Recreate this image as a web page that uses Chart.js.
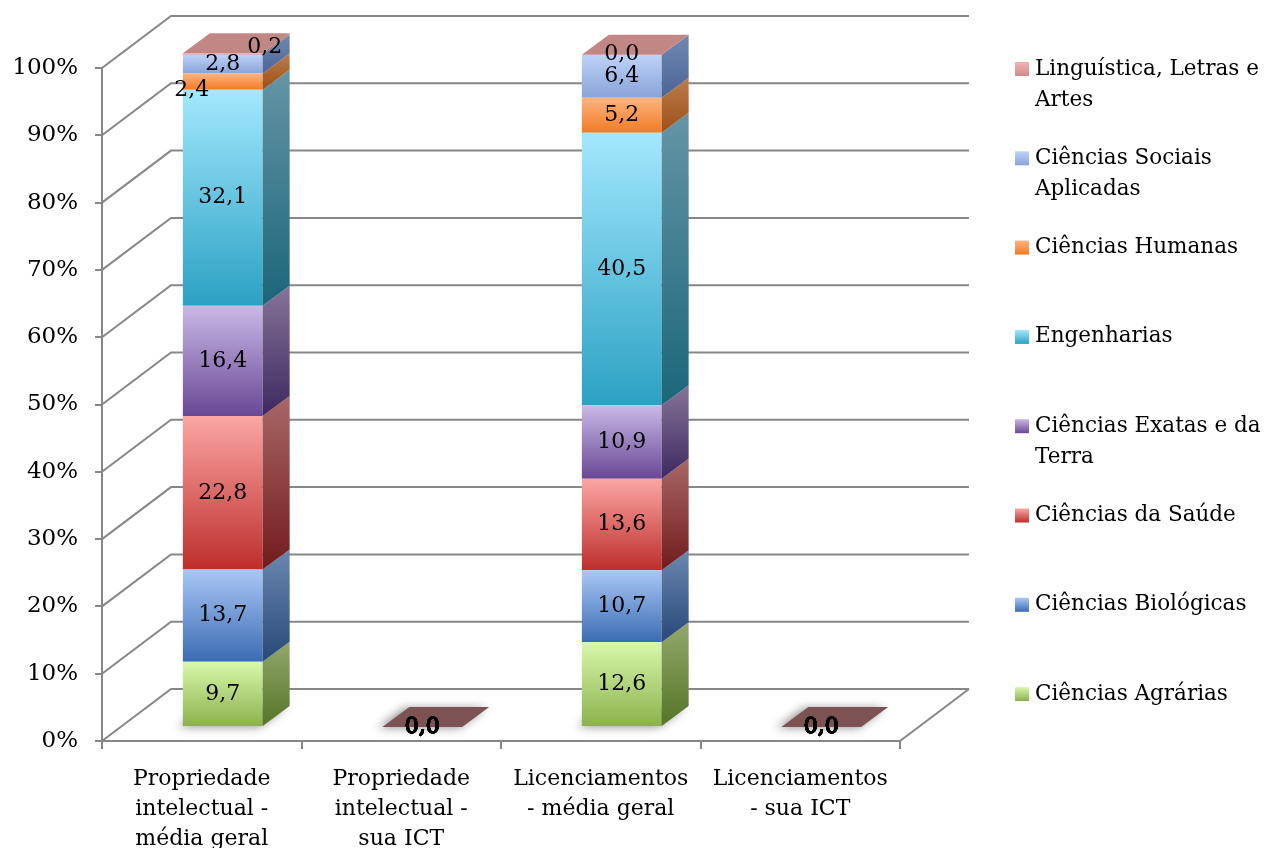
<!DOCTYPE html>
<html>
<head>
<meta charset="utf-8">
<script src="https://cdn.jsdelivr.net/npm/chart.js@4.4.1/dist/chart.umd.min.js"></script>
<style>
  html, body { margin: 0; padding: 0; background: #ffffff; }
  canvas { display: block; }
</style>
</head>
<body>
<canvas id="chart" width="1264" height="848"></canvas>
<script>
// Categories (multi-line axis labels)
const categories = [
  ['Propriedade', 'intelectual -', 'média geral'],
  ['Propriedade', 'intelectual -', 'sua ICT'],
  ['Licenciamentos', '- média geral'],
  ['Licenciamentos', '- sua ICT']
];

// Series names, bottom of the stack first (legend shows them top-down reversed)
const seriesNames = [
  ['Ciências Agrárias'],
  ['Ciências Biológicas'],
  ['Ciências da Saúde'],
  ['Ciências Exatas e da', 'Terra'],
  ['Engenharias'],
  ['Ciências Humanas'],
  ['Ciências Sociais', 'Aplicadas'],
  ['Linguística, Letras e', 'Artes']
];

// Percent shares per category
const agrarias    = [9.7, 0.0, 12.6, 0.0];
const biologicas  = [13.7, 0.0, 10.7, 0.0];
const saude       = [22.8, 0.0, 13.6, 0.0];
const exatas      = [16.4, 0.0, 10.9, 0.0];
const engenharias = [32.1, 0.0, 40.5, 0.0];
const humanas     = [2.4, 0.0, 5.2, 0.0];
const sociais     = [2.8, 0.0, 6.4, 0.0];
const linguistica = [0.2, 0.0, 0.0, 0.0];

const yTicks = [0, 10, 20, 30, 40, 50, 60, 70, 80, 90, 100];

const seriesValues = [agrarias, biologicas, saude, exatas, engenharias, humanas, sociais, linguistica];

// Face colours: front gradient (top -> bottom) and side gradient
const palette = [
  { front: ['#d9f8ab', '#8cb04c'], side: ['#93a96b', '#567428'] },
  { front: ['#aac7f5', '#3a6cb3'], side: ['#6c88b0', '#284878'] },
  { front: ['#fba6a4', '#bd2e2b'], side: ['#a96767', '#721b1b'] },
  { front: ['#c9b9e7', '#694795'], side: ['#877498', '#3d2960'] },
  { front: ['#a3e8fe', '#2ba1c3'], side: ['#6595a6', '#1b667a'] },
  { front: ['#fdb47f', '#f27b25'], side: ['#bb7d4c', '#9d4f18'] },
  { front: ['#bed3f8', '#89a3d9'], side: ['#7189b1', '#4a6495'] },
  { front: ['#f6b2b2', '#d08a8a'], side: ['#b38383', '#8f5f5f'] }
];
const TOP_FACE = '#c28785';
const TOP_FACE_EMPTY = '#7d5252';
const LINE = '#878787';
const FONT = '"DejaVu Serif", "Liberation Serif", serif';

// 3D projection offsets
const FX = 21, FY = -14;     // bar front plane relative to the axis plane
const BDX = 27, BDY = -20;   // bar depth
const WDX = 69, WDY = -52;   // wall / floor depth

// small label nudges (series:category) where labels would collide
const labelNudge = { '5:0': [-31, 9], '7:0': [42, -7] };

function fmt(v) { return v.toFixed(1).replace('.', ','); }

function stackRange(si, idx) {
  let lo = 0;
  for (let k = 0; k < si; k++) lo += seriesValues[k][idx];
  return [lo, lo + seriesValues[si][idx]];
}

function frontFill(c, si) {
  const chart = c.chart;
  const ys = chart.scales && chart.scales.y;
  if (!ys || c.type !== 'data' || !chart.chartArea) return palette[si].front[1];
  const [lo, hi] = stackRange(si, c.dataIndex);
  const y0 = ys.getPixelForValue(hi), y1 = ys.getPixelForValue(lo);
  if (!(y1 - y0 > 0.5)) return palette[si].front[1];
  const g = chart.ctx.createLinearGradient(0, y0, 0, y1);
  g.addColorStop(0, palette[si].front[0]);
  g.addColorStop(1, palette[si].front[1]);
  return g;
}

function poly(ctx, pts) {
  ctx.beginPath();
  ctx.moveTo(pts[0][0], pts[0][1]);
  for (let i = 1; i < pts.length; i++) ctx.lineTo(pts[i][0], pts[i][1]);
  ctx.closePath();
}

const threeD = {
  id: 'threeD',
  beforeDatasetsDraw(chart) {
    const { ctx, chartArea: a, scales: { y } } = chart;
    // side wall, back wall and floor lines
    ctx.save();
    ctx.strokeStyle = LINE;
    ctx.lineWidth = 2;
    ctx.lineJoin = 'miter';
    yTicks.forEach(v => {
      const py = y.getPixelForValue(v);
      ctx.beginPath();
      ctx.moveTo(a.left, py);
      ctx.lineTo(a.left + WDX, py + WDY);
      ctx.lineTo(a.right + WDX, py + WDY);
      ctx.stroke();
    });
    ctx.beginPath();
    ctx.moveTo(a.right, a.bottom);
    ctx.lineTo(a.right + WDX, a.bottom + WDY);
    ctx.stroke();
    ctx.restore();

    // move into the bar plane
    ctx.save();
    ctx.translate(FX, FY);

    // soft floor shadows under each bar
    const base = chart.getDatasetMeta(0).data;
    base.forEach(el => {
      const p = el.getProps(['x', 'base', 'width'], true);
      const xl = p.x - p.width / 2 - 5, xr = p.x + p.width / 2 - 3, b = p.base + 1;
      ctx.save();
      ctx.filter = 'blur(5px)';
      ctx.fillStyle = 'rgba(0,0,0,0.42)';
      poly(ctx, [[xl, b], [xr, b], [xr + BDX, b + BDY], [xl + BDX, b + BDY]]);
      ctx.fill();
      ctx.restore();
    });
  },
  afterDatasetsDraw(chart) {
    const { ctx } = chart;
    const n = categories.length;
    const metas = seriesValues.map((_, i) => chart.getDatasetMeta(i));
    const totals = [];

    for (let j = 0; j < n; j++) {
      let topY = null, xc = 0, w = 0, total = 0;
      metas.forEach((meta, si) => {
        const el = meta.data[j];
        const p = el.getProps(['x', 'y', 'base', 'width'], true);
        xc = p.x; w = p.width;
        total += seriesValues[si][j];
        const t = Math.min(p.y, p.base), b = Math.max(p.y, p.base);
        topY = topY === null ? t : Math.min(topY, t);
        if (b - t < 0.3) return;
        const xr = p.x + p.width / 2;
        const g = ctx.createLinearGradient(0, t + BDY, 0, b);
        g.addColorStop(0, palette[si].side[0]);
        g.addColorStop(1, palette[si].side[1]);
        ctx.fillStyle = g;
        poly(ctx, [[xr, t], [xr + BDX, t + BDY], [xr + BDX, b + BDY], [xr, b]]);
        ctx.fill();
      });
      totals.push(total);
      // top face of the stack
      const xl = xc - w / 2, xr = xc + w / 2;
      ctx.fillStyle = total > 0 ? TOP_FACE : TOP_FACE_EMPTY;
      poly(ctx, [[xl, topY], [xr, topY], [xr + BDX, topY + BDY], [xl + BDX, topY + BDY]]);
      ctx.fill();
    }

    // value labels
    ctx.fillStyle = '#000';
    ctx.strokeStyle = '#000';
    ctx.lineWidth = 0.9;
    ctx.font = '22px ' + FONT;
    ctx.textAlign = 'center';
    ctx.textBaseline = 'middle';
    metas.forEach((meta, si) => {
      meta.data.forEach((el, j) => {
        const p = el.getProps(['x', 'y', 'base'], true);
        const nudge = labelNudge[si + ':' + j] || [0, 0];
        const tx = p.x + nudge[0], ty = (p.y + p.base) / 2 + nudge[1];
        const txt = fmt(seriesValues[si][j]);
        ctx.fillText(txt, tx, ty);
        // empty stacks: all labels sit on top of each other
        if (totals[j] === 0) ctx.strokeText(txt, tx, ty);
      });
    });

    ctx.restore();
  },
  afterDraw(chart) {
    // legend, top entry = last series
    const { ctx } = chart;
    ctx.save();
    ctx.font = '21.5px ' + FONT;
    ctx.textAlign = 'left';
    ctx.textBaseline = 'middle';
    const count = seriesNames.length;
    for (let r = 0; r < count; r++) {
      const si = count - 1 - r;
      const cy = 69 + r * 89.3;
      const g = ctx.createLinearGradient(0, cy - 7, 0, cy + 7);
      g.addColorStop(0, palette[si].front[0]);
      g.addColorStop(1, palette[si].front[1]);
      ctx.fillStyle = g;
      ctx.fillRect(1015, cy - 7, 14, 14);
      ctx.fillStyle = '#000';
      seriesNames[si].forEach((line, k) => ctx.fillText(line, 1035, cy + k * 31));
    }
    ctx.restore();
  }
};

const datasets = seriesValues.map((vals, si) => ({
  label: seriesNames[si].join(' '),
  data: vals,
  backgroundColor: c => frontFill(c, si),
  borderWidth: 0,
  barPercentage: 0.4,
  categoryPercentage: 1.0,
  clip: false
}));

new Chart(document.getElementById('chart'), {
  type: 'bar',
  data: { labels: categories, datasets },
  plugins: [threeD],
  options: {
    responsive: false,
    devicePixelRatio: 1,
    animation: false,
    events: [],
    layout: { padding: { top: 68, right: 364, left: 0, bottom: 0 } },
    plugins: { legend: { display: false }, tooltip: { enabled: false }, title: { display: false } },
    scales: {
      x: {
        stacked: true,
        grid: { offset: true, drawOnChartArea: false, drawTicks: true, tickLength: 8, color: LINE, lineWidth: 2 },
        border: { display: true, color: LINE, width: 2 },
        ticks: {
          color: '#000', font: { family: FONT, size: 22, lineHeight: 1.36 },
          padding: 15, maxRotation: 0, minRotation: 0, autoSkip: false
        },
        afterFit(s) { s.height = 107; }
      },
      y: {
        stacked: true,
        min: 0, max: 100,
        afterBuildTicks(s) { s.ticks = yTicks.map(v => ({ value: v })); },
        grid: { drawOnChartArea: false, drawTicks: true, tickLength: 7, color: LINE, lineWidth: 2 },
        border: { display: true, color: LINE, width: 2 },
        ticks: { color: '#000', font: { family: FONT, size: 23 }, padding: 17, callback: v => v + '%' },
        afterFit(s) { s.width = 102; }
      }
    }
  }
});
</script>
</body>
</html>
